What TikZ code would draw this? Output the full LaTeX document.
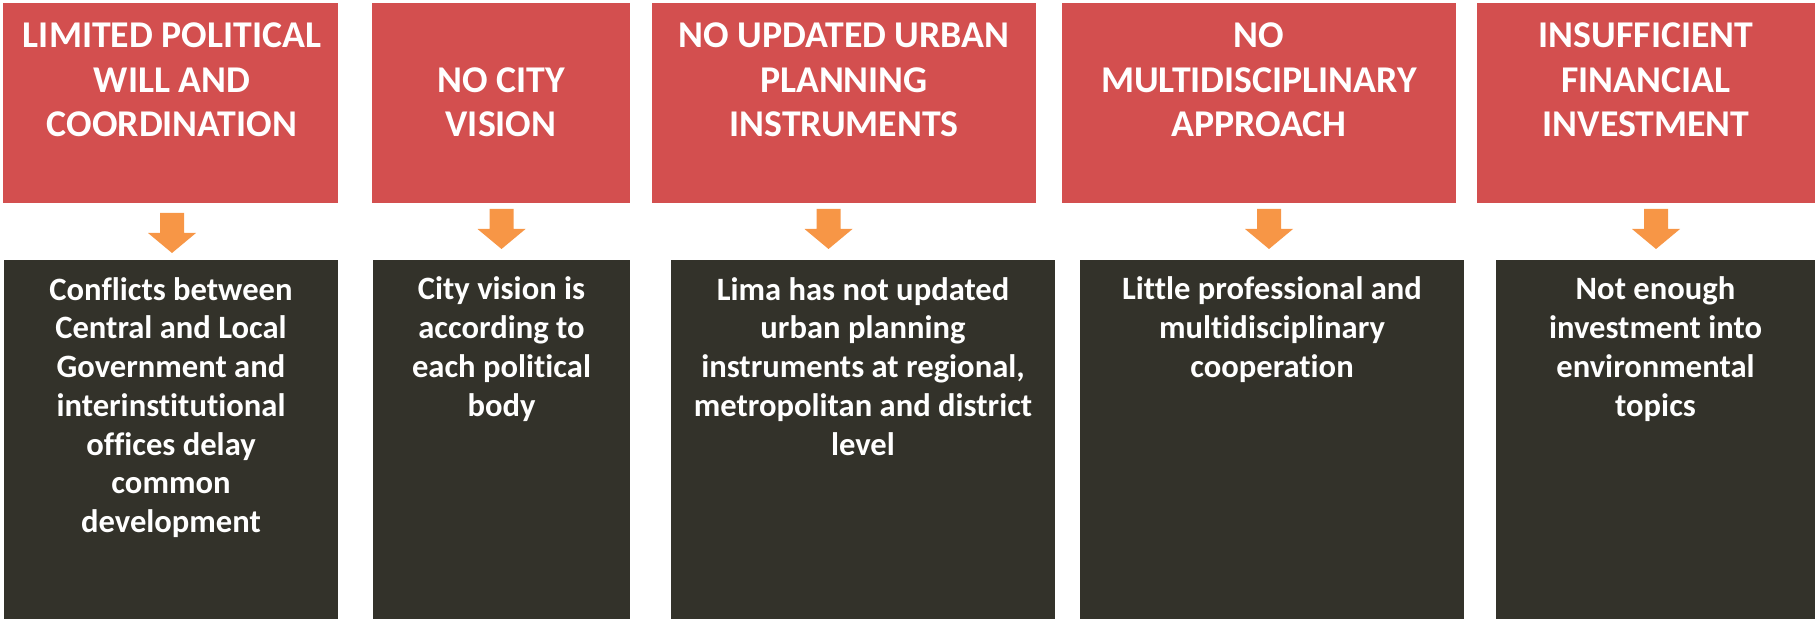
\documentclass[tikz,border=0pt]{standalone}
\usepackage{fontspec}
\setmainfont{Carlito}[Ligatures=NoCommon]
\usetikzlibrary{positioning}
\definecolor{causered}{HTML}{D34F4F}
\definecolor{effectdark}{HTML}{33322A}
\definecolor{arroworange}{HTML}{F79646}
\tikzset{
  causebox/.style={rectangle, fill=causered, inner sep=0pt, minimum height=100pt},
  effectbox/.style={rectangle, fill=effectdark, inner sep=0pt, minimum height=179.5pt},
  causetext/.style={text=white, align=center, inner sep=0pt, anchor=base,
    font={\fontsize{18.9}{22.25}\selectfont\bfseries}},
  effecttext/.style={text=white, align=center, inner sep=0pt, anchor=base,
    font={\fontsize{16.3}{19.4}\selectfont\bfseries}},
  downarrow/.pic={\fill[arroworange] (-12,0) -- (12,0) -- (12,20) -- (24,20) -- (0,40) -- (-24,20) -- (-12,20) -- cycle;}
}

\begin{document}
\begin{tikzpicture}[x=0.5pt, y=-0.5pt]
\useasboundingbox (0,0) rectangle (1817,620);

\node[causebox, minimum width=167.5pt] (c1) at (170.5,103) {};
\node[causebox, minimum width=129pt] (c2) at (501,103) {};
\node[causebox, minimum width=192pt] (c3) at (844,103) {};
\node[causebox, minimum width=197pt] (c4) at (1259,103) {};
\node[causebox, minimum width=169pt] (c5) at (1646,103) {};

% base anchor sits on the last line
\node[causetext] (t1) at (172,137) {LIMITED POLITICAL\\WILL AND\\COORDINATION};
\node[causetext] (t2) at (501,137) {NO CITY\\VISION};
\node[causetext] (t3) at (844,137) {NO UPDATED URBAN\\PLANNING\\INSTRUMENTS};
\node[causetext] (t4) at (1259,137) {NO\\MULTIDISCIPLINARY\\APPROACH};
\node[causetext] (t5) at (1646,137) {INSUFFICIENT\\FINANCIAL\\INVESTMENT};

\pic at (172,213) {downarrow};
\pic at (501.5,209) {downarrow};
\pic at (828.5,209) {downarrow};
\pic at (1269,209) {downarrow};
\pic at (1656,209) {downarrow};

\node[effectbox, minimum width=167pt] (e1) at (171,439.5) {};
\node[effectbox, minimum width=128.5pt] (e2) at (501.5,439.5) {};
\node[effectbox, minimum width=192pt] (e3) at (863,439.5) {};
\node[effectbox, minimum width=192pt] (e4) at (1272,439.5) {};
\node[effectbox, minimum width=159.5pt] (e5) at (1655.5,439.5) {};

\node[effecttext] (s1) at (171,532.8) {Conflicts between\\Central and Local\\Government and\\interinstitutional\\offices delay\\common\\development};
\node[effecttext] (s2) at (501.5,416.4) {City vision is\\according to\\each political\\body};
\node[effecttext] (s3) at (863,455.2) {Lima has not updated\\urban planning\\instruments at regional,\\metropolitan and district\\level};
\node[effecttext] (s4) at (1272,377.6) {Little professional and\\multidisciplinary\\cooperation};
\node[effecttext] (s5) at (1655.5,416.4) {Not enough\\investment into\\environmental\\topics};

\end{tikzpicture}
\end{document}
